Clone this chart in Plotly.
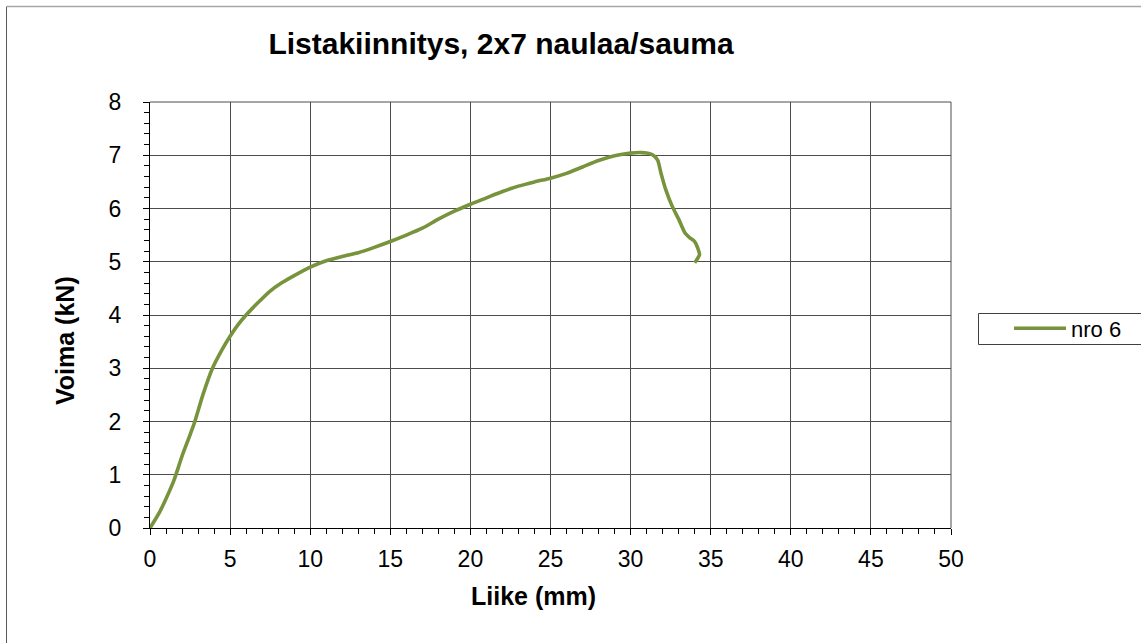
import plotly.graph_objects as go

# Data
liike_mm = [0.0, 0.6, 1.0, 1.5, 2.0, 2.5, 2.8, 3.3, 3.9, 4.5, 5.0, 5.5, 6.0, 6.7, 7.5,
            8.2, 9.0, 10.0, 11.0, 12.0, 13.0, 14.0, 15.0, 16.0, 17.0, 18.0, 19.0, 20.0,
            21.0, 22.0, 23.0, 24.0, 25.0, 26.0, 27.0, 28.0, 29.0, 30.0, 30.7, 31.2,
            31.5, 31.7, 31.9, 32.2, 32.6, 33.0, 33.4, 33.7, 34.0, 34.2, 34.3, 34.0]
voima_kN = [0.0, 0.3, 0.55, 0.9, 1.35, 1.75, 2.0, 2.5, 3.0, 3.35, 3.6, 3.82, 4.0, 4.22, 4.45,
            4.6, 4.74, 4.9, 5.02, 5.1, 5.17, 5.27, 5.38, 5.5, 5.63, 5.8, 5.95, 6.08,
            6.2, 6.32, 6.42, 6.5, 6.57, 6.66, 6.78, 6.9, 6.99, 7.04, 7.05, 7.03,
            6.98, 6.9, 6.66, 6.35, 6.04, 5.8, 5.54, 5.45, 5.38, 5.25, 5.13, 4.98]
series_name = "nro 6"
title_text = "Listakiinnitys, 2x7 naulaa/sauma"
x_title = "Liike (mm)"
y_title = "Voima (kN)"

W, H = 1141, 643
L, R, T, B = 150, 951, 102, 528  # plot area pixels

font_family = "Liberation Sans, Arial, sans-serif"

fig = go.Figure()
fig.add_trace(go.Scatter(
    x=liike_mm, y=voima_kN, mode="lines", name=series_name,
    line=dict(color="#77933C", width=3.6, shape="spline", smoothing=0.6),
))

def px_x(p):
    return (p - L) / (R - L)

def px_y(p):
    return (B - p) / (B - T)

fig.update_layout(
    width=W, height=H,
    margin=dict(l=L, r=W - R, t=T, b=H - B),
    paper_bgcolor="white", plot_bgcolor="white",
    font=dict(family=font_family, size=23, color="black"),
    showlegend=True,
    legend=dict(
        x=px_x(1009), y=px_y(328.5), xanchor="left", yanchor="middle",
        borderwidth=0, bgcolor="rgba(0,0,0,0)",
        font=dict(size=22, family=font_family),
        itemwidth=52,
    ),
    title=dict(text="<b>" + title_text + "</b>", x=501 / W, xanchor="center",
               y=1 - 43 / H, yanchor="middle",
               font=dict(size=30, family=font_family, color="black")),
)

fig.update_xaxes(
    range=[0, 50], dtick=5, tick0=0,
    showgrid=True, gridcolor="#4d4d4d", gridwidth=1,
    showline=True, linecolor="black", linewidth=1, mirror=False,
    ticks="outside", ticklen=6, tickcolor="black",
    minor=dict(dtick=1, ticks="outside", ticklen=5, tickcolor="black", showgrid=False),
    zeroline=False, tickfont=dict(size=23), ticklabelstandoff=4,
)
fig.update_yaxes(
    range=[0, 8], dtick=1, tick0=0,
    showgrid=True, gridcolor="#4d4d4d", gridwidth=1,
    showline=True, linecolor="black", linewidth=1,
    ticks="outside", ticklen=6, tickcolor="black",
    minor=dict(dtick=0.2, ticks="outside", ticklen=5, tickcolor="black", showgrid=False),
    zeroline=False, tickfont=dict(size=23), ticklabelstandoff=17,
)

fig.add_annotation(text="<b>" + x_title + "</b>", xref="paper", yref="paper",
                   x=px_x(533.5), y=px_y(596), xanchor="center", yanchor="middle",
                   showarrow=False, font=dict(size=25, family=font_family))
fig.add_annotation(text="<b>" + y_title + "</b>", xref="paper", yref="paper",
                   x=px_x(65), y=px_y(341), xanchor="center", yanchor="middle",
                   textangle=-90, showarrow=False, font=dict(size=25, family=font_family))

# top and right edges of the plot area (gridlines at y=8 and x=50)
fig.add_shape(type="line", xref="paper", yref="paper", x0=0, y0=1, x1=1, y1=1,
              line=dict(color="#4d4d4d", width=1), layer="below")
fig.add_shape(type="line", xref="paper", yref="paper", x0=1, y0=0, x1=1, y1=1,
              line=dict(color="#4d4d4d", width=1), layer="below")

# legend frame
fig.add_shape(type="rect", xref="paper", yref="paper",
              x0=px_x(978.5), y0=px_y(313.5), x1=px_x(1150), y1=px_y(344.5),
              line=dict(color="#404040", width=1), fillcolor="rgba(0,0,0,0)")

# outer chart border (left and top visible)
fig.add_shape(type="line", xref="paper", yref="paper",
              x0=px_x(6.5), y0=px_y(6.5), x1=px_x(6.5), y1=px_y(643),
              line=dict(color="#595959", width=1))
fig.add_shape(type="line", xref="paper", yref="paper",
              x0=px_x(6.5), y0=px_y(6.5), x1=px_x(1141), y1=px_y(6.5),
              line=dict(color="#a6a6a6", width=1.5))

fig.write_html("out.html", post_script="document.body.style.margin='0px';",
               config={"displayModeBar": False})
